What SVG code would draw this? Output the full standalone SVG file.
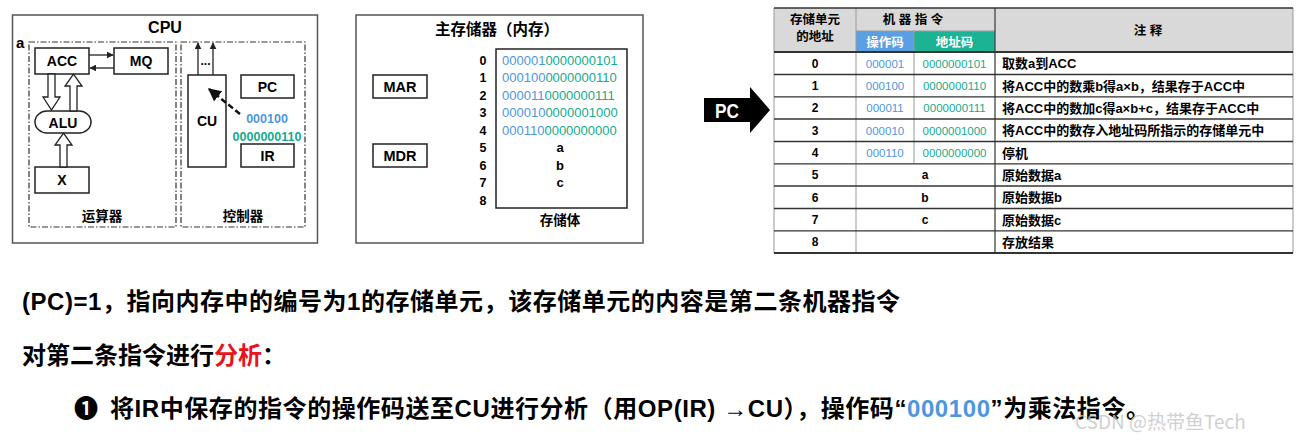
<svg xmlns="http://www.w3.org/2000/svg" width="1302" height="443" viewBox="0 0 1302 443">
<defs>
<style>
.t{font-family:"Liberation Sans","Noto Sans CJK SC",sans-serif;font-weight:bold;fill:#000}
.cj{font-family:"Noto Sans CJK SC","Liberation Sans",sans-serif;font-weight:bold;fill:#000}
.box{fill:#fff;stroke:#222;stroke-width:1.5}
.outer{fill:#fff;stroke:#555;stroke-width:1.5}
.dd{fill:none;stroke:#333;stroke-width:1.2;stroke-dasharray:6 2 1.5 2}
.blk{fill:#fff;stroke:#222;stroke-width:1.3}
.ln{stroke:#222;stroke-width:1.3;fill:none}
.blue{fill:#4d96df}
.teal{fill:#15aa8c}
.hl{stroke:#333;stroke-width:1.3}
.vl{stroke:#999;stroke-width:1}
.mid{text-anchor:middle}
</style>
<marker id="ah" viewBox="0 0 10 10" refX="9" refY="5" markerWidth="7" markerHeight="7" markerUnits="userSpaceOnUse" orient="auto">
<path d="M0,0 L10,5 L0,10 z" fill="#222"/>
</marker>
<marker id="ahb" viewBox="0 0 10 10" refX="9" refY="5" markerWidth="13" markerHeight="13" markerUnits="userSpaceOnUse" orient="auto">
<path d="M0,0 L10,5 L0,10 z" fill="#111"/>
</marker>
</defs>
<rect width="1302" height="443" fill="#fff"/>

<!-- CPU panel -->
<g id="cpu">
<rect class="outer" x="12.5" y="15" width="305" height="228"/>
<text class="t mid" x="165" y="33" font-size="16">CPU</text>
<text class="t" x="16" y="48" font-size="15">a</text>
<rect class="dd" x="29" y="42" width="147" height="185"/>
<rect class="dd" x="181" y="42" width="124" height="185"/>
<text class="cj mid" x="102" y="221" font-size="13.5">运算器</text>
<text class="cj mid" x="243" y="221" font-size="13.5">控制器</text>
</g>
<g id="acc"><rect class="box" x="35" y="48" width="54" height="26"/><text class="t mid" x="62" y="66" font-size="14">ACC</text></g>
<g id="mq"><rect class="box" x="114" y="48" width="54" height="26"/><text class="t mid" x="141" y="66" font-size="14">MQ</text></g>
<g id="alu"><rect class="box" x="35" y="111" width="56" height="22" rx="12" ry="11"/><text class="t mid" x="63" y="127.5" font-size="14">ALU</text></g>
<g id="x"><rect class="box" x="35" y="167" width="54" height="26"/><text class="t mid" x="62" y="185" font-size="14">X</text></g>
<g id="cu"><rect class="box" x="188" y="75" width="38" height="92"/><text class="t mid" x="207" y="126" font-size="14">CU</text></g>
<g id="pc"><rect class="box" x="241" y="75" width="53" height="23"/><text class="t mid" x="267.5" y="92" font-size="14">PC</text></g>
<g id="ir"><rect class="box" x="241" y="144" width="53" height="23"/><text class="t mid" x="267.5" y="161" font-size="14">IR</text></g>
<g id="cpu-bits">
<text class="t mid blue" x="267" y="123" font-size="12.5">000100</text>
<text class="t mid teal" x="267" y="141" font-size="12.5">0000000110</text>
</g>

<!-- Memory panel -->
<g id="memory">
<rect class="outer" x="356" y="15" width="287" height="228"/>
<text class="cj mid" x="497" y="35" font-size="15.5">主存储器（内存）</text>
<text class="cj mid" x="560" y="225" font-size="13.5">存储体</text>
</g>
<g id="mar"><rect class="box" x="373" y="75" width="54" height="23"/><text class="t mid" x="400" y="92" font-size="14.5">MAR</text></g>
<g id="mdr"><rect class="box" x="373" y="144" width="54" height="23"/><text class="t mid" x="400" y="161" font-size="14.5">MDR</text></g>
<g id="storage">
<rect class="box" x="496" y="49" width="131" height="159"/>
<g class="t mid" font-size="12.5">
<text x="483" y="64.5">0</text><text x="483" y="82">1</text><text x="483" y="99.5">2</text><text x="483" y="117">3</text><text x="483" y="134.5">4</text><text x="483" y="152">5</text><text x="483" y="169.5">6</text><text x="483" y="187">7</text><text x="483" y="204.5">8</text>
</g>
<g font-family="Liberation Sans, sans-serif" font-size="13">
<text x="502" y="64.5"><tspan class="blue">000001</tspan><tspan class="teal">0000000101</tspan></text>
<text x="502" y="82"><tspan class="blue">000100</tspan><tspan class="teal">0000000110</tspan></text>
<text x="502" y="99.5"><tspan class="blue">000011</tspan><tspan class="teal">0000000111</tspan></text>
<text x="502" y="117"><tspan class="blue">000010</tspan><tspan class="teal">0000001000</tspan></text>
<text x="502" y="134.5"><tspan class="blue">000110</tspan><tspan class="teal">0000000000</tspan></text>
</g>
<g class="t mid" font-size="13">
<text x="560" y="152">a</text><text x="560" y="169.5">b</text><text x="560" y="187">c</text>
</g>
</g>

<!-- PC arrow -->
<g id="pc-arrow">
<polygon points="704,98 750,98 750,87 770,110 750,133 750,122 704,122" fill="#000"/>
<text x="727" y="117.5" font-family="Liberation Sans, sans-serif" font-weight="bold" font-size="20" fill="#fff" text-anchor="middle" textLength="24" lengthAdjust="spacingAndGlyphs">PC</text>
</g>

<!-- Table -->
<g id="table">
<rect x="774" y="8" width="519" height="44" fill="#d9d9d9"/>
<rect x="856" y="31" width="58" height="21" fill="#5b9fe3"/>
<rect x="914" y="31" width="81" height="21" fill="#1bb394"/>
<g class="vl">
<line x1="774" y1="8" x2="774" y2="253"/>
<line x1="856" y1="8" x2="856" y2="253"/>
<line x1="914" y1="31" x2="914" y2="164"/>
<line x1="1293" y1="8" x2="1293" y2="253"/>
<line x1="856" y1="31" x2="995" y2="31"/>
</g>
<line x1="995" y1="8" x2="995" y2="253" stroke="#444" stroke-width="1.3"/>
<g class="hl">
<line x1="774" y1="8" x2="1293" y2="8"/>
<line x1="774" y1="52" x2="1293" y2="52" stroke-width="1.8"/>
<line x1="774" y1="74.5" x2="1293" y2="74.5"/>
<line x1="774" y1="96.8" x2="1293" y2="96.8"/>
<line x1="774" y1="119" x2="1293" y2="119"/>
<line x1="774" y1="141.5" x2="1293" y2="141.5"/>
<line x1="774" y1="163.8" x2="1293" y2="163.8"/>
<line x1="774" y1="186" x2="1293" y2="186"/>
<line x1="774" y1="208.5" x2="1293" y2="208.5"/>
<line x1="774" y1="230.8" x2="1293" y2="230.8"/>
<line x1="774" y1="253" x2="1293" y2="253" stroke-width="1.8"/>
</g>
<g class="t mid" font-size="12.5">
<text x="815" y="24">存储单元</text>
<text x="815" y="41">的地址</text>
<text x="913" y="24">机 器 指 令</text>
<text x="885" y="46.5" style="fill:#fff">操作码</text>
<text x="954.5" y="46.5" style="fill:#fff">地址码</text>
<text x="1148" y="35">注 释</text>
</g>
<g class="t mid" font-size="12">
<text x="815" y="67.5">0</text><text x="815" y="90">1</text><text x="815" y="112">2</text><text x="815" y="134.5">3</text><text x="815" y="157">4</text><text x="815" y="179">5</text><text x="815" y="201.5">6</text><text x="815" y="224">7</text><text x="815" y="246">8</text>
</g>
<g font-family="Liberation Sans, sans-serif" font-size="11.5" text-anchor="middle">
<text class="blue" x="885" y="67.5">000001</text><text class="teal" x="954.5" y="67.5">0000000101</text>
<text class="blue" x="885" y="90">000100</text><text class="teal" x="954.5" y="90">0000000110</text>
<text class="blue" x="885" y="112">000011</text><text class="teal" x="954.5" y="112">0000000111</text>
<text class="blue" x="885" y="134.5">000010</text><text class="teal" x="954.5" y="134.5">0000001000</text>
<text class="blue" x="885" y="157">000110</text><text class="teal" x="954.5" y="157">0000000000</text>
</g>
<g class="t mid" font-size="12">
<text x="925" y="179">a</text><text x="925" y="201.5">b</text><text x="925" y="224">c</text>
</g>
<g class="t" font-size="13">
<text x="1002" y="68">取数a到ACC</text>
<text x="1002" y="90.5">将ACC中的数乘b得a×b，结果存于ACC中</text>
<text x="1002" y="112.5">将ACC中的数加c得a×b+c，结果存于ACC中</text>
<text x="1002" y="135">将ACC中的数存入地址码所指示的存储单元中</text>
<text x="1002" y="157.5">停机</text>
<text x="1002" y="179.5">原始数据a</text>
<text x="1002" y="202">原始数据b</text>
<text x="1002" y="224.5">原始数据c</text>
<text x="1002" y="246.5">存放结果</text>
</g>
</g>

<!-- connectors -->
<g id="connectors">
<line class="ln" x1="89" y1="55" x2="113" y2="55" marker-end="url(#ah)"/>
<line class="ln" x1="114" y1="68" x2="90" y2="68" marker-end="url(#ah)"/>
<polygon class="blk" points="48,74 55,74 55,97 60,97 51.5,110 43,97 48,97"/>
<polygon class="blk" points="70,111 77,111 77,86 82,86 73.5,74 65,86 70,86"/>
<polygon class="blk" points="60,167 67,167 67,145 72,145 63.5,133 55,145 60,145"/>
<line class="ln" x1="198" y1="75" x2="198" y2="43" marker-end="url(#ah)"/>
<line class="ln" x1="213" y1="75" x2="213" y2="43" marker-end="url(#ah)"/>
<text class="t mid" x="205.5" y="65" font-size="12">...</text>
<line x1="240" y1="114" x2="209" y2="89" stroke="#111" stroke-width="2.5" stroke-dasharray="6 3" marker-end="url(#ahb)"/>
</g>

<!-- bottom text -->
<g id="notes">
<text class="t" x="22" y="310" font-size="24" textLength="878" lengthAdjust="spacing">(PC)=1，指向内存中的编号为1的存储单元，该存储单元的内容是第二条机器指令</text>
<text class="t" x="22" y="364" font-size="24">对第二条指令进行<tspan style="fill:#e8141c">分析</tspan>：</text>
<text class="t" x="74" y="417" font-size="24">❶</text>
<text class="t" x="110" y="417" font-size="24" textLength="1040" lengthAdjust="spacing">将IR中保存的指令的操作码送至CU进行分析（用OP(IR) →CU），操作码“<tspan style="fill:#4d96df">000100</tspan>”为乘法指令。</text>
</g>
<text x="1075" y="429" font-family="Noto Sans CJK SC, sans-serif" font-size="19" fill="#c4c4c4" fill-opacity="0.8">CSDN @热带鱼Tech</text>
</svg>
